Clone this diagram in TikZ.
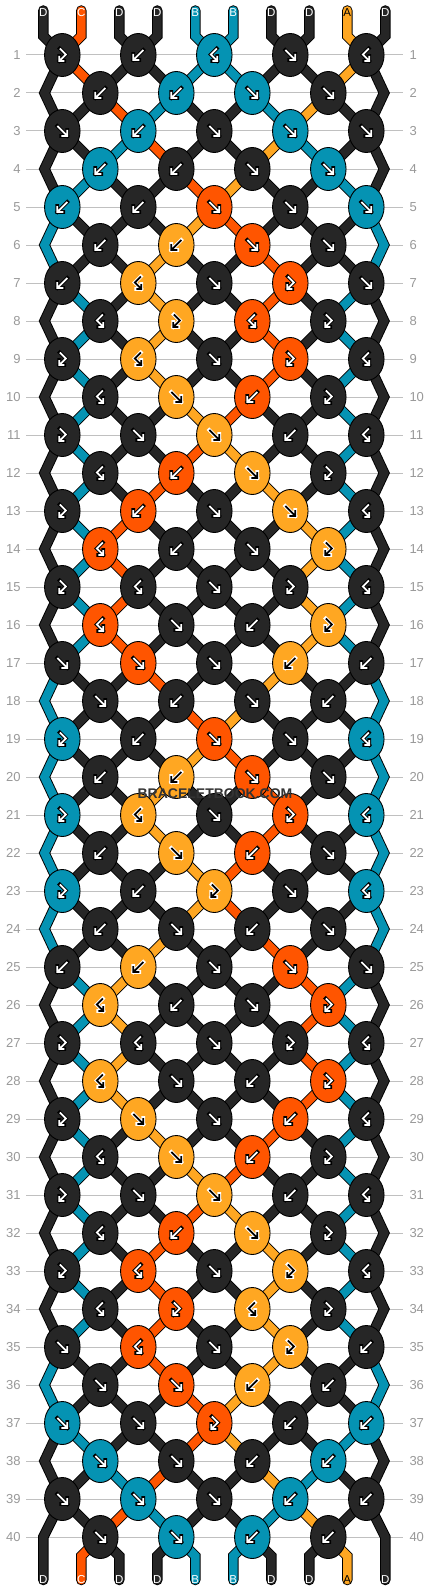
\documentclass[tikz,border=0pt]{standalone}
\usepackage{fontspec}
\setmainfont{Liberation Sans}
\usetikzlibrary{shapes.geometric}
\definecolor{cD}{HTML}{262626}
\definecolor{cC}{HTML}{FF5500}
\definecolor{cB}{HTML}{0593B3}
\definecolor{cA}{HTML}{FFA722}
\definecolor{numgray}{HTML}{999999}
\definecolor{linegray}{HTML}{C0C0C0}
\definecolor{wmark}{HTML}{333333}
\pgfdeclarelayer{gridlayer}
\pgfdeclarelayer{strlayer}
\pgfsetlayers{gridlayer,strlayer,main}

\newcommand\bbset[2]{\expandafter\xdef\csname bbp-#1\endcsname{#2}}
\newcommand\bbget[1]{\csname bbp-#1\endcsname}
\newcommand\bbstore[2]{\expandafter\xdef\csname bbs-#1\endcsname{#2}}
\newcommand\bbfetch[1]{\csname bbs-#1\endcsname}
\newcommand\defrow[2]{\expandafter\def\csname bbrow#1\endcsname{#2}}
\newcommand\bbstr[2]{\edef\scol{c#1}\draw[strO] #2; \draw[strI,color=\scol] #2;}
\newcommand\icpath[2]{%
  \if#1f\draw[#2] (-5,5)--(5,-5) (-1,-5)--(5,-5)--(5,1);\fi
  \if#1b\draw[#2] (5,5)--(-5,-5) (1,-5)--(-5,-5)--(-5,1);\fi
  \if#1F\draw[#2] (-2.5,6.5)--(3.5,0.5)--(-3,-6) (2,-6)--(-3,-6)--(-3,-1);\fi
  \if#1B\draw[#2] (2.5,6.5)--(-3.5,0.5)--(3,-6) (-2,-6)--(3,-6)--(3,-1);\fi}
\newcommand\bbicon[3]{%
  \if#2A\def\icfg{black}\def\icbg{white}\else\def\icfg{white}\def\icbg{black}\fi
  \begin{scope}[shift={(#3.center)}]
    \icpath{#1}{icO,color=\icbg}
    \icpath{#1}{icI,color=\icfg}
  \end{scope}}

\bbset{1}{D}\bbset{2}{C}\bbset{3}{D}\bbset{4}{D}\bbset{5}{B}
\bbset{6}{B}\bbset{7}{D}\bbset{8}{D}\bbset{9}{A}\bbset{10}{D}

\defrow{1}{F,b,B,f,B}
\defrow{2}{b,b,f,f}
\defrow{3}{f,b,f,f,f}
\defrow{4}{b,b,f,f}
\defrow{5}{b,b,f,f,f}
\defrow{6}{b,b,f,f}
\defrow{7}{b,B,f,F,f}
\defrow{8}{B,F,B,F}
\defrow{9}{F,B,f,F,B}
\defrow{10}{B,f,b,F}
\defrow{11}{F,f,f,b,B}
\defrow{12}{B,b,f,F}
\defrow{13}{F,b,f,f,B}
\defrow{14}{B,b,f,F}
\defrow{15}{F,B,f,F,B}
\defrow{16}{B,f,b,F}
\defrow{17}{f,f,f,b,b}
\defrow{18}{f,b,f,b}
\defrow{19}{F,b,f,f,B}
\defrow{20}{b,b,f,f}
\defrow{21}{F,B,f,F,B}
\defrow{22}{b,f,b,f}
\defrow{23}{F,b,F,f,B}
\defrow{24}{b,f,b,f}
\defrow{25}{b,b,f,f,f}
\defrow{26}{B,b,f,F}
\defrow{27}{F,B,f,F,B}
\defrow{28}{B,f,b,F}
\defrow{29}{F,f,f,b,B}
\defrow{30}{B,f,b,F}
\defrow{31}{F,f,f,b,B}
\defrow{32}{B,b,f,F}
\defrow{33}{F,B,f,F,B}
\defrow{34}{B,F,B,F}
\defrow{35}{f,B,f,F,b}
\defrow{36}{f,f,b,b}
\defrow{37}{f,f,F,b,b}
\defrow{38}{f,f,b,b}
\defrow{39}{f,f,f,b,b}
\defrow{40}{f,f,b,b}

\tikzset{
  knot/.style={ellipse, minimum width=35.5pt, minimum height=43pt, inner sep=0pt, draw=black, line width=0.9pt},
  strO/.style={line width=10.5pt, color=black, line cap=round, line join=miter},
  strI/.style={line width=8.6pt, line cap=round, line join=miter},
  icO/.style={line width=3.8pt, line cap=rect, line join=miter},
  icI/.style={line width=1.8pt, line cap=butt, line join=miter},
  numlbl/.style={text=numgray, font=\fontsize{13}{13}\selectfont, inner sep=0pt},
  gridline/.style={draw=linegray, line width=1pt},
  strlbl/.style={font=\fontsize{11.5}{11.5}\selectfont, inner sep=0pt},
}

\begin{document}
\begin{tikzpicture}[x=1pt,y=1pt]
\useasboundingbox (0,0) rectangle (430,-1592);
\begin{pgfonlayer}{gridlayer}
\fill[white] (0,0) rectangle (430,-1592);
\end{pgfonlayer}

% coordinates for string ends and edge bends
\foreach \jj in {1,...,10}{
  \coordinate (top-\jj) at ({43.3+38*(\jj-1)},-10.5);
  \coordinate (tk-\jj) at ({43.3+38*(\jj-1)},-36);
  \coordinate (bk-\jj) at ({43.3+38*(\jj-1)},-1556);
  \coordinate (bot-\jj) at ({43.3+38*(\jj-1)},-1580);
}
\foreach \rr in {2,4,...,38}{
  \coordinate (eL-\rr) at (44.5,{-55-38*(\rr-1)});
  \coordinate (eR-\rr) at (384.1,{-55-38*(\rr-1)});
}
\coordinate (eL-40) at (43.3,-1537);
\coordinate (eR-40) at (385.3,-1537);

% row numbers and guide lines
\foreach \rr in {1,...,40}{
  \node[numlbl, anchor=east] (numL-\rr) at (20.7,{-55-38*(\rr-1)}) {\rr};
  \node[numlbl, anchor=west] (numR-\rr) at (409.3,{-55-38*(\rr-1)}) {\rr};
  \begin{pgfonlayer}{gridlayer}
  \draw[gridline, shorten <=5.3pt, shorten >=6pt] (numL-\rr.east) -- (numR-\rr.west);
  \end{pgfonlayer}
}

% knots (simulation of the strings)
\foreach \rr in {1,...,40}{
  \edef\ty{\csname bbrow\rr\endcsname}
  \foreach \tp [count=\ii] in \ty {
    \ifodd\rr\relax\pgfmathtruncatemacro\kx{2*\ii-1}\else\pgfmathtruncatemacro\kx{2*\ii}\fi
    \pgfmathtruncatemacro\kk{\kx+1}
    \edef\bbL{\bbget{\kx}}\edef\bbR{\bbget{\kk}}
    \if\tp f\edef\kc{\bbL}\bbset{\kx}{\bbR}\bbset{\kk}{\bbL}\fi
    \if\tp b\edef\kc{\bbR}\bbset{\kx}{\bbR}\bbset{\kk}{\bbL}\fi
    \if\tp F\edef\kc{\bbL}\fi
    \if\tp B\edef\kc{\bbR}\fi
    \bbstore{lo-\rr-\kx}{\bbget{\kx}}
    \bbstore{ro-\rr-\kx}{\bbget{\kk}}
    \edef\kcol{c\kc}
    \node[knot, fill=\kcol] (n-\rr-\kx) at ({62.3+38*(\kx-1)},{-55-38*(\rr-1)}) {};
    \bbicon{\tp}{\kc}{n-\rr-\kx}
  }
}

% strings
\begin{pgfonlayer}{strlayer}
\foreach \jj/\cc in {1/D,2/C,3/D,4/D,5/B,6/B,7/D,8/D,9/A,10/D}{
  \ifodd\jj\relax\pgfmathtruncatemacro\kt{\jj}\else\pgfmathtruncatemacro\kt{\jj-1}\fi
  \bbstr{\cc}{(top-\jj) -- (tk-\jj) -- (n-1-\kt.center)}
}
\foreach \rr in {1,...,39}{
  \pgfmathtruncatemacro\rn{\rr+1}
  \pgfmathtruncatemacro\rnn{\rr+2}
  \ifodd\rr\relax\def\klist{1,3,5,7,9}\else\def\klist{2,4,6,8}\fi
  \foreach \kx in \klist {
    \pgfmathtruncatemacro\kl{\kx-1}
    \pgfmathtruncatemacro\kr{\kx+1}
    \edef\lc{\bbfetch{lo-\rr-\kx}}
    \edef\rc{\bbfetch{ro-\rr-\kx}}
    \ifnum\kx>1 \bbstr{\lc}{(n-\rr-\kx.center) -- (n-\rn-\kl.center)}\fi
    \ifnum\kx<9 \bbstr{\rc}{(n-\rr-\kx.center) -- (n-\rn-\kr.center)}\fi
    \ifnum\kx=1 \ifnum\rr<39 \bbstr{\lc}{(n-\rr-1.center) -- (eL-\rn) -- (n-\rnn-1.center)}\else\bbstr{\lc}{(n-39-1.center) -- (eL-40) -- (bot-1)}\fi\fi
    \ifnum\kx=9 \ifnum\rr<39 \bbstr{\rc}{(n-\rr-9.center) -- (eR-\rn) -- (n-\rnn-9.center)}\else\bbstr{\rc}{(n-39-9.center) -- (eR-40) -- (bot-10)}\fi\fi
  }
}
\foreach \kx in {2,4,6,8}{
  \pgfmathtruncatemacro\kr{\kx+1}
  \edef\lc{\bbfetch{lo-40-\kx}}
  \edef\rc{\bbfetch{ro-40-\kx}}
  \bbstr{\lc}{(n-40-\kx.center) -- (bk-\kx) -- (bot-\kx)}
  \bbstr{\rc}{(n-40-\kx.center) -- (bk-\kr) -- (bot-\kr)}
}
\end{pgfonlayer}

% string labels
\foreach \jj/\cc in {1/D,2/C,3/D,4/D,5/B,6/B,7/D,8/D,9/A,10/D}{
  \if\cc A\def\tcol{black}\else\def\tcol{white}\fi
  \node[strlbl, text=\tcol] (lt-\jj) at ({43.3+38*(\jj-1)},-13) {\cc};
  \node[strlbl, text=\tcol] (lb-\jj) at ({43.3+38*(\jj-1)},-1580) {\cc};
}

\node[font=\bfseries\fontsize{14}{14}\selectfont, text=wmark, inner sep=0pt] (wm) at (215,-794) {BRACELETBOOK.COM};
\end{tikzpicture}
\end{document}
